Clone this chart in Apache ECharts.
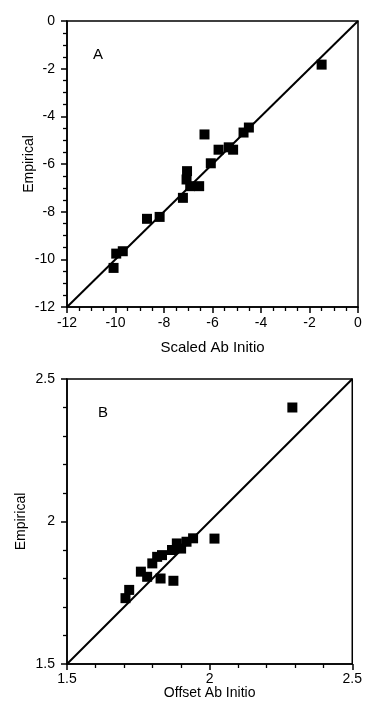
<!DOCTYPE html>
<html>
<head>
<meta charset="utf-8">
<script src="https://cdn.jsdelivr.net/npm/echarts@6/dist/echarts.min.js"></script>
<style>html,body{margin:0;padding:0;background:#fff;}#c{width:365px;height:708px;}</style>
</head>
<body>
<div id="c"></div>
<script>
// Panel A data
const aX = [-1.5, -6.33, -4.72, -4.5, -5.75, -5.33, -5.15, -6.07, -7.05, -7.07, -6.92, -6.55, -7.22, -8.7, -8.18, -9.97, -9.7, -10.08];
const aY = [-1.83, -4.76, -4.68, -4.47, -5.4, -5.3, -5.4, -5.97, -6.3, -6.65, -6.93, -6.93, -7.42, -8.3, -8.22, -9.76, -9.66, -10.36];
const aRange = [-12, 0];
// Panel B data
const bX = [2.29, 2.017, 1.942, 1.919, 1.885, 1.90, 1.868, 1.833, 1.816, 1.799, 1.759, 1.781, 1.828, 1.873, 1.718, 1.705];
const bY = [2.40, 1.94, 1.941, 1.929, 1.923, 1.905, 1.90, 1.882, 1.876, 1.853, 1.824, 1.806, 1.80, 1.792, 1.76, 1.731];
const bRange = [1.5, 2.5];

const font = 'Liberation Sans, Arial, Helvetica, sans-serif';
const chart = echarts.init(document.getElementById('c'), null, {renderer: 'canvas'});

function axis(gi, range, interval, minorSplit, name, nameGap, nameSize, labelMargin) {
  return {
    type: 'value', gridIndex: gi, min: range[0], max: range[1], interval: interval,
    name: name, nameLocation: 'middle', nameGap: nameGap, nameMoveOverlap: false,
    nameTextStyle: {fontFamily: font, fontSize: nameSize, color: '#000'},
    axisLine: {show: true, onZero: false, lineStyle: {color: '#000', width: 1.5}},
    axisTick: {show: true, inside: false, length: 6, lineStyle: {color: '#000', width: 1.5}},
    minorTick: {show: true, splitNumber: minorSplit, length: 4, lineStyle: {color: '#000', width: 1.3}},
    axisLabel: {fontFamily: font, fontSize: 14, color: '#000', margin: labelMargin},
    splitLine: {show: false}
  };
}

const option = {
  animation: false,
  backgroundColor: '#fff',
  title: [
    {text: 'A', left: 88, top: 42, textStyle: {fontFamily: font, fontSize: 15, fontWeight: 'normal', color: '#000'}},
    {text: 'B', left: 93, top: 400, textStyle: {fontFamily: font, fontSize: 15, fontWeight: 'normal', color: '#000'}}
  ],
  grid: [
    {left: 67, top: 21, width: 291, height: 286, show: true, borderColor: '#000', borderWidth: 1.5, backgroundColor: 'transparent'},
    {left: 67, top: 379, width: 290, height: 285, show: true, borderColor: '#000', borderWidth: 1.5, backgroundColor: 'transparent'}
  ],
  xAxis: [
    axis(0, aRange, 2, 4, 'Scaled Ab Initio', 33, 15, 9),
    axis(1, bRange, 0.5, 5, 'Offset Ab Initio', 22, 14, 8)
  ],
  yAxis: [
    axis(0, aRange, 2, 4, 'Empirical', 31, 14, 12),
    axis(1, bRange, 0.5, 5, 'Empirical', 39, 14, 12)
  ],
  series: [
    {type: 'line', xAxisIndex: 0, yAxisIndex: 0, data: [[aRange[0], aRange[0]], [aRange[1], aRange[1]]], symbol: 'none', lineStyle: {color: '#000', width: 2}, z: 2},
    {type: 'scatter', xAxisIndex: 0, yAxisIndex: 0, data: aX.map((v, i) => [v, aY[i]]), symbol: 'rect', symbolSize: 10, itemStyle: {color: '#000', opacity: 1}, z: 3},
    {type: 'line', xAxisIndex: 1, yAxisIndex: 1, data: [[bRange[0], bRange[0]], [bRange[1], bRange[1]]], symbol: 'none', lineStyle: {color: '#000', width: 2}, z: 2},
    {type: 'scatter', xAxisIndex: 1, yAxisIndex: 1, data: bX.map((v, i) => [v, bY[i]]), symbol: 'rect', symbolSize: 10, itemStyle: {color: '#000', opacity: 1}, z: 3}
  ]
};
chart.setOption(option);
</script>
</body>
</html>
